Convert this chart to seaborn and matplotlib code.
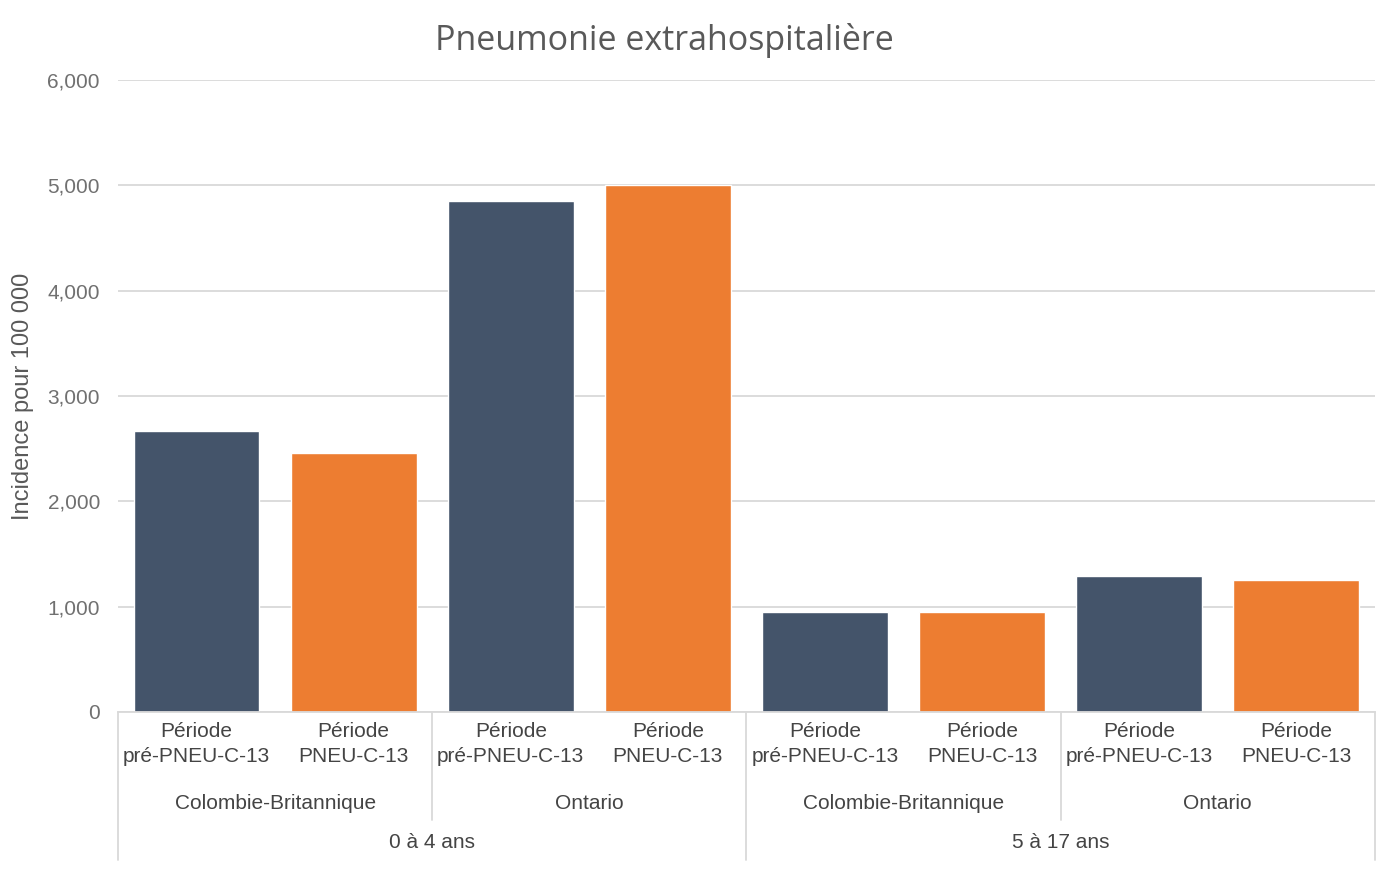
import numpy as np
import pandas as pd
import matplotlib
matplotlib.use("Agg")
import matplotlib.pyplot as plt
import matplotlib.transforms as mtransforms
import seaborn as sns

# Data
AGE_GROUPS = ["0 à 4 ans", "5 à 17 ans"]
REGIONS = ["Colombie-Britannique", "Ontario"]
PERIODS = ["Période\npré-PNEU-C-13", "Période\nPNEU-C-13"]
# one value per (age, region), in order: 0-4 BC, 0-4 ON, 5-17 BC, 5-17 ON
PRE_VALUES = [2670, 4855, 950, 1290]
POST_VALUES = [2460, 5000, 950, 1255]

COLORS = {PERIODS[0]: "#44546A", PERIODS[1]: "#ED7D31"}
TEXT_GREY = "#595959"
TICK_GREY = "#707070"
CAT_GREY = "#444444"
LINE_GREY = "#D9D9D9"

rows = []
for i, (age, region) in enumerate([(a, r) for a in AGE_GROUPS for r in REGIONS]):
    for period, vals in zip(PERIODS, [PRE_VALUES, POST_VALUES]):
        rows.append({"slot": f"{age}|{region}|{period}", "age": age,
                     "region": region, "period": period, "value": vals[i]})
df = pd.DataFrame(rows)

sns.set_theme(style="white")
plt.rcParams["font.family"] = ["Liberation Sans", "DejaVu Sans"]

fig = plt.figure(figsize=(13.93, 8.69), dpi=100)
ax = fig.add_axes([0.0847, 0.1807, 0.9023, 0.7273])

sns.barplot(data=df, x="slot", y="value", hue="period", palette=COLORS,
            dodge=False, width=0.8, saturation=1, ax=ax, legend=False)

ax.set_ylim(0, 6000)
ax.set_yticks(range(0, 6001, 1000))
ax.set_yticklabels([f"{v:,}" for v in range(0, 6001, 1000)], color=TICK_GREY, fontsize=15)
ax.yaxis.grid(True, color=LINE_GREY, linewidth=1.3)
ax.set_axisbelow(True)
ax.tick_params(axis="y", length=0, pad=13)
ax.tick_params(axis="x", length=0)
ax.set_xlim(-0.5, len(df) - 0.5)
ax.set_xticks(range(len(df)))
ax.set_xticklabels([])
ax.set_xlabel("")
ax.set_ylabel("Incidence pour 100 000", fontsize=17, color=TEXT_GREY, labelpad=10)
for side in ["left", "right", "top"]:
    ax.spines[side].set_visible(False)
ax.spines["bottom"].set_color(LINE_GREY)
ax.spines["bottom"].set_linewidth(1.3)

# hierarchical category axis
trans = mtransforms.blended_transform_factory(ax.transData, ax.transAxes)
h = 632.0  # axes height in pixels
for i, per in enumerate(df["period"]):
    ax.text(i, -32 / h, per, transform=trans, ha="center", va="center",
            fontsize=15, color=CAT_GREY, linespacing=1.35)

n_reg = len(REGIONS)
for k, (age, region) in enumerate([(a, r) for a in AGE_GROUPS for r in REGIONS]):
    ax.text(2 * k + 0.5, -92 / h, region, transform=trans, ha="center", va="center",
            fontsize=15, color=CAT_GREY)
for j, age in enumerate(AGE_GROUPS):
    ax.text(j * 2 * n_reg + (2 * n_reg - 1) / 2, -131 / h, age, transform=trans,
            ha="center", va="center", fontsize=15, color=CAT_GREY)

for k in range(len(AGE_GROUPS) * n_reg + 1):
    x = 2 * k - 0.5
    outer = k % n_reg == 0
    y1 = -148 / h if outer else -108 / h
    ax.plot([x, x], [0, y1], transform=trans, color=LINE_GREY, linewidth=1.3,
            clip_on=False)

fig.text(0.477, 0.953, "Pneumonie extrahospitalière", ha="center", va="center",
         fontsize=24.5, color=TEXT_GREY, family=["Open Sans", "DejaVu Sans"])

fig.savefig("out.png", dpi=100)
